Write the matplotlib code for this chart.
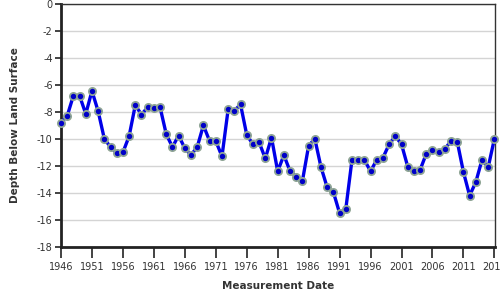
import matplotlib
matplotlib.use("Agg")
import matplotlib.pyplot as plt

plt.rcParams["axes.unicode_minus"] = False

years = list(range(1946, 2017))
depth = [
    -8.8, -8.3, -6.8, -6.8, -8.15, -6.45, -7.95, -10.0, -10.6, -11.05,
    -11.0, -9.8, -7.5, -8.2, -7.65, -7.7, -7.65, -9.65, -10.6, -9.75,
    -10.7, -11.2, -10.6, -9.0, -10.15, -10.15, -11.3, -7.8, -7.9, -7.45,
    -9.7, -10.4, -10.25, -11.45, -9.9, -12.4, -11.2, -12.4, -12.8, -13.1,
    -10.5, -10.0, -12.1, -13.6, -13.95, -15.5, -15.2, -11.55, -11.55, -11.55,
    -12.4, -11.55, -11.4, -10.4, -9.8, -10.4, -12.05, -12.4, -12.3, -11.1,
    -10.8, -11.0, -10.75, -10.15, -10.2, -12.45, -14.2, -13.2, -11.55, -12.1,
    -10.0,
]
xticks = list(range(1946, 2017, 5))
yticks = list(range(-18, 1, 2))

fig = plt.figure(figsize=(5, 3), dpi=100)
ax = fig.add_axes([0.122, 0.177, 0.868, 0.81])

ax.plot(years, depth, color="#0000e8", linewidth=2.4, marker="o",
        markersize=5.2, markerfacecolor="#0000c8", markeredgecolor="#8fa595",
        markeredgewidth=1.3, zorder=3, clip_on=False)

ax.set_xlim(1946, 2016.1)
ax.set_ylim(-18, 0)
ax.set_xticks(xticks)
ax.set_yticks(yticks)
ax.yaxis.grid(True, color="#d4d4d4", linewidth=1.0)
ax.set_axisbelow(True)

for s in ["left", "bottom"]:
    ax.spines[s].set_linewidth(2.0)
    ax.spines[s].set_color("#222222")
for s in ["top", "right"]:
    ax.spines[s].set_linewidth(1.0)
    ax.spines[s].set_color("#333333")

ax.tick_params(axis="x", length=8, width=1.2, color="#222222",
               labelsize=7, labelcolor="#333333", pad=3)
ax.tick_params(axis="y", length=4, width=1.2, color="#222222",
               labelsize=7, labelcolor="#333333", pad=2)

ax.set_xlabel("Measurement Date", fontsize=7.5, fontweight="bold",
              color="#333333", labelpad=6.5)
ax.set_ylabel("Depth Below Land Surface", fontsize=7.5, fontweight="bold",
              color="#333333", labelpad=12)

fig.savefig("out.png", dpi=100)
